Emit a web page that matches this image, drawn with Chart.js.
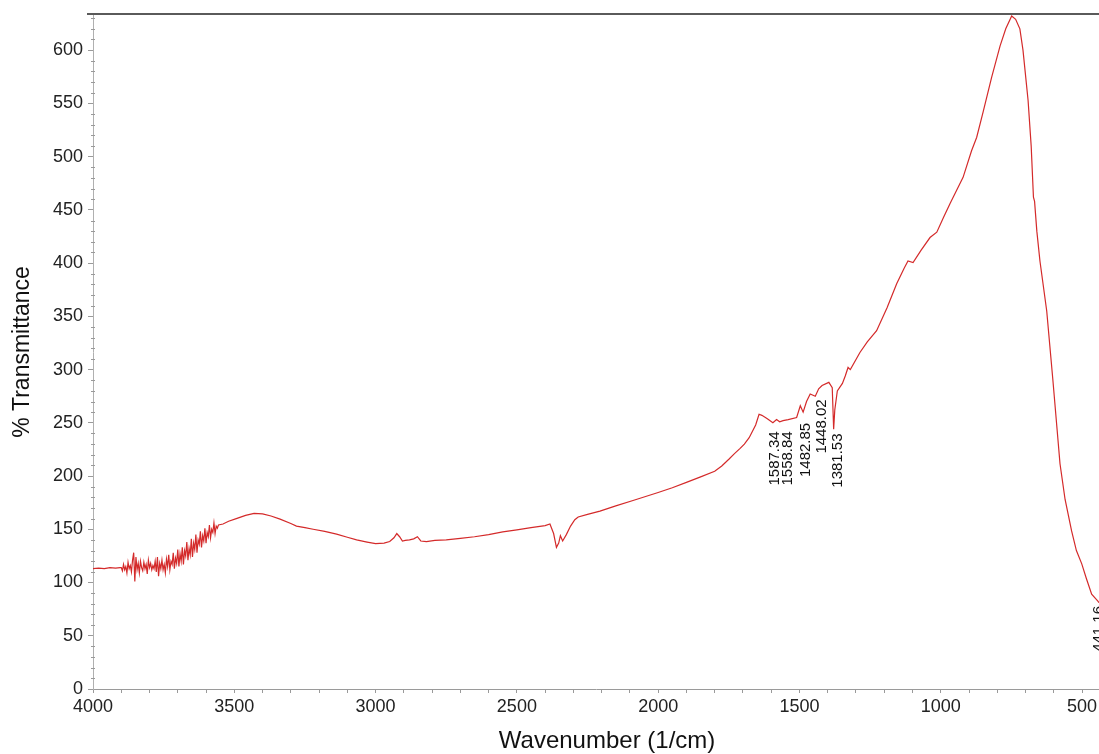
<!DOCTYPE html>
<html><head><meta charset="utf-8">
<script src="https://cdn.jsdelivr.net/npm/chart.js@4.4.0/dist/chart.umd.min.js"></script>
<style>html,body{margin:0;padding:0;background:#fff}#wrap{width:1099px;height:754px}</style>
</head><body><div id="wrap"><canvas id="c" width="1099" height="754"></canvas></div>
<script>
const wavenumbers = [4000,3980,3960,3940,3920,3904,
 3900,3896,3892,3888,3884,3880,3876,3872,3868,3864,3860,3856,3852,3848,3844,3840,3836,3832,3828,3824,3820,3816,3812,3808,3804,3800,
 3796,3792,3788,3784,3780,3776,3772,3768,3764,3760,3756,3752,3748,3744,3740,3736,3732,3728,3724,3720,3716,3712,3708,3704,3700,
 3696,3692,3688,3684,3680,3676,3672,3668,3664,3660,3656,3652,3648,3644,3640,3636,3632,3628,3624,3620,3616,3612,3608,3604,3600,
 3596,3592,3588,3584,3580,3576,3572,3568,3564,3560,3556,
 3540,3520,3493,3460,3430,3400,3370,3338,3300,3280,3250,3221,3180,3138,3100,3067,3030,3000,2970,2950,2935,2925,2915,2905,2895,2880,2865,2852,2840,2820,2790,2750,2700,2650,2600,2550,2500,2450,2400,
 2383,2370,2360,2352,2346,2338,2325,2310,2295,2283,2250,2206,2150,2089,2000,1950,1900,1852,1800,1775,1749,1730,1710,1695,1678,1655,1643,1633,1615,1594,1581,1570,1558,1540,1510,1497,1487,1475,1462,1444,1432,1420,1396,1384,1379,1375,1366,1348,1338,1328,1320,1286,1260,1227,1190,1156,1130,1116,1098,1070,1038,1014,990,967,921,891,873,850,820,790,770,749,735,720,709,691,680,672,668,660,649,625,603,578,560,537,520,501,485,466,444,440];
const transmittance = [113,113.5,113,114,113.5,114,
 114,111,117,112,115,109,119,113,116,110,121,128,101,124,112,118,109,120,114,111,119,113,117,108,121,114,
 118,112,116,113,120,110,124,106,118,113,121,112,117,109,122,115,126,112,120,117,128,113,123,118,131,
 115,127,120,133,117,130,125,138,121,132,126,141,124,137,131,145,128,140,136,148,133,144,139,151,137,
 147,143,154,142,150,147,156,146,153,151,154,
 155,157.5,160,163,165,164.5,162.5,159.5,155.5,153,151.5,150,148,145.5,142.5,140,138,136.5,137,138.5,142,146,143,139,139.5,140,141,143,139,138.5,139.5,140,141.5,143,145,147.5,149.5,151.5,153.5,
 155,146,133,137,144,139,145,153,159,161.5,164,167,172,177,184.5,189,194,199,204.5,209.5,216,221,226,230,236,248,258,257,254,250,253,251,252,253,255,266,260,270,277,275,282,285,288,283,244,262,280,287,294,302,300,316,326,336.5,358,380.5,395,402,400.5,412,424,429,443,456,480.5,505.5,518,542,574.5,604,620,632,629,620,600,553,510,462,458,430,402,355,289.5,211.5,178,148.5,130,117.5,104,89,82.5,81];
const xTickLabels = [4000,3500,3000,2500,2000,1500,1000,500];
const yTickLabels = [0,50,100,150,200,250,300,350,400,450,500,550,600];
const xTitle = 'Wavenumber (1/cm)';
const peakLabels = ['1587.34','1558.84','1482.85','1448.02','1381.53','441.16'];
const peakWavenumbers = [1587.34,1558.84,1482.85,1448.02,1381.53,441.16];
const peakLabelTop = [242,242,250,272,240,78];
const peakLabelShift = [0,5,1.5,8,4.5,0];

const points = wavenumbers.map((w,i)=>({x:w,y:transmittance[i]}));
const FONT = '"Liberation Sans", Arial, sans-serif';

const extras = {
  id:'extras',
  afterDraw(chart){
    const ctx = chart.ctx, ca = chart.chartArea;
    const xs = chart.scales.x, ys = chart.scales.y;
    ctx.save();
    ctx.strokeStyle='#5a5a5a'; ctx.lineWidth=2;
    ctx.beginPath(); ctx.moveTo(ca.left-6, ca.top-1); ctx.lineTo(ca.right, ca.top-1); ctx.stroke();
    ctx.strokeStyle='#9a9a9a'; ctx.lineWidth=1;
    for(let v=0; v<=630; v+=10){
      if(v%50===0) continue;
      const py = Math.round(ys.getPixelForValue(v))+0.5;
      ctx.beginPath(); ctx.moveTo(ca.left-2, py); ctx.lineTo(ca.left+2, py); ctx.stroke();
    }
    ctx.fillStyle='#111'; ctx.font='15px '+FONT;
    ctx.textAlign='right'; ctx.textBaseline='middle';
    peakLabels.forEach((t,i)=>{
      const px = xs.getPixelForValue(peakWavenumbers[i]) + peakLabelShift[i];
      const py = ys.getPixelForValue(peakLabelTop[i]);
      ctx.save(); ctx.translate(px, py); ctx.rotate(-Math.PI/2);
      ctx.fillText(t, 0, 0); ctx.restore();
    });
    ctx.font='24px '+FONT; ctx.textAlign='center'; ctx.textBaseline='middle'; ctx.fillStyle='#111';
    ctx.fillText(xTitle, ca.left + (ca.right-ca.left)*0.511, 741);
    ctx.restore();
  }
};

new Chart(document.getElementById('c'), {
  type:'line',
  data:{datasets:[{data:points, borderColor:'#d42a2a', borderWidth:1.2, pointRadius:0, tension:0, fill:false}]},
  options:{
    responsive:false, animation:false, devicePixelRatio:1,
    layout:{padding:{top:15,left:0,right:0,bottom:0}},
    plugins:{legend:{display:false}, tooltip:{enabled:false}},
    scales:{
      x:{type:'linear', reverse:true, min:440, max:4000,
        afterBuildTicks(s){ const t=[]; for(let v=4000; v>=500; v-=100) t.push({value:v}); s.ticks=t; },
        afterFit(s){ s.height=65; s.paddingLeft=0; s.paddingRight=0; },
        ticks:{autoSkip:false, maxRotation:0, padding:3, color:'#222',
          font:{family:FONT, size:18},
          callback:(v)=> xTickLabels.includes(v) ? String(v) : ''},
        grid:{drawOnChartArea:false, drawTicks:true, tickLength:4, tickColor:'#9a9a9a'},
        border:{color:'#9a9a9a', width:1},
        title:{display:false}
      },
      y:{type:'linear', min:0, max:633,
        afterBuildTicks(s){ s.ticks = yTickLabels.map(v=>({value:v})); },
        afterFit(s){ s.width=93; s.paddingTop=0; s.paddingBottom=0; },
        ticks:{autoSkip:false, padding:5, color:'#222',
          font:{family:FONT, size:18},
          callback:(v)=>String(v)},
        grid:{drawOnChartArea:false, drawTicks:true, tickLength:5, tickColor:'#9a9a9a'},
        border:{color:'#b0b0b0', width:1},
        title:{display:true, text:'% Transmittance', color:'#111', padding:{top:9,bottom:0},
          font:{family:FONT, size:23}}
      }
    }
  },
  plugins:[extras]
});
</script></body></html>
